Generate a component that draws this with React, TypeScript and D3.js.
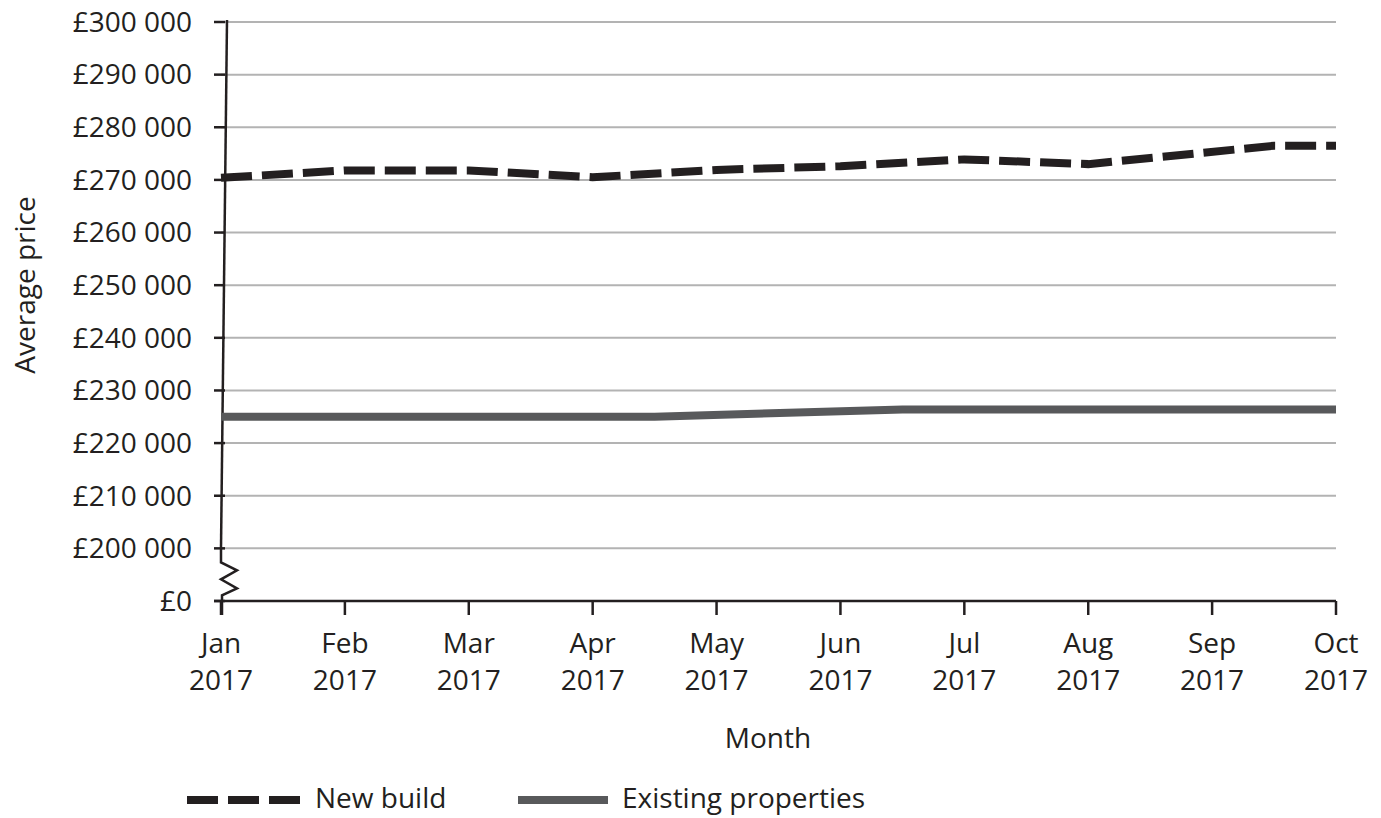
import { useEffect } from "react";
import * as d3 from "d3";

// month positions: 0 = Jan 2017 ... 9 = Oct 2017
const monthLabels = ["Jan", "Feb", "Mar", "Apr", "May", "Jun", "Jul", "Aug", "Sep", "Oct"];
const yearLabel = "2017";

const yTickValues = [190000, 200000, 210000, 220000, 230000, 240000, 250000, 260000, 270000, 280000, 290000, 300000];
const yTickLabels = ["£0", "£200 000", "£210 000", "£220 000", "£230 000", "£240 000", "£250 000", "£260 000", "£270 000", "£280 000", "£290 000", "£300 000"];

const newBuildMonths = [0, 1, 2, 3, 4, 5, 6, 7, 8.5, 9];
const newBuildPrices = [270400, 271800, 271800, 270500, 271900, 272600, 273900, 273000, 276500, 276500];

const existingMonths = [0, 3.5, 5.5, 9];
const existingPrices = [225000, 225000, 226400, 226400];

const INK = "#231f20";
const GREY = "#58595b";
const FONT = "'Open Sans', sans-serif";

const App = () => {
  useEffect(() => {
    document.body.style.margin = "0";
  }, []);

  const x = d3.scaleLinear().domain([0, 9]).range([221, 1336]);
  const y = d3.scaleLinear().domain([190000, 300000]).range([601, 22]);

  const line = d3
    .line<[number, number]>()
    .x((d) => x(d[0]))
    .y((d) => y(d[1]))
    .curve(d3.curveLinear);

  const newBuild = newBuildMonths.map((m, i) => [m, newBuildPrices[i]] as [number, number]);
  const existing = existingMonths.map((m, i) => [m, existingPrices[i]] as [number, number]);

  const x0 = x(0);
  const breakTop = y(200000) + 14;
  // zigzag for the axis break
  const zig = [
    [x0, y(200000)],
    [x0, breakTop],
    [x0 + 16, breakTop + 8],
    [x0, breakTop + 17],
    [x0 + 16, breakTop + 26],
    [x0 + 1, breakTop + 33],
    [x0 + 1, y(190000) + 14],
  ];

  return (
    <svg width={1381} height={818} style={{ display: "block", fontFamily: FONT }}>
      {/* gridlines */}
      {yTickValues.slice(1).map((v) => (
        <line key={v} x1={x0} x2={x(9)} y1={y(v)} y2={y(v)} stroke="#b3b3b3" strokeWidth={2} />
      ))}
      {/* y ticks + labels */}
      {yTickValues.map((v, i) => (
        <g key={"t" + v}>
          <line x1={x0 - 7} x2={x0 + 4} y1={y(v)} y2={y(v)} stroke={INK} strokeWidth={2.5} />
          <text x={192} y={y(v)} dy="0.35em" textAnchor="end" fontSize={28} fill={INK}>
            {yTickLabels[i]}
          </text>
        </g>
      ))}
      {/* y axis (slightly slanted as in original) */}
      <line x1={x0 + 6} y1={y(300000) - 2} x2={x0} y2={y(200000)} stroke={INK} strokeWidth={2.5} />
      <path d={d3.line()(zig as [number, number][]) ?? ""} fill="none" stroke={INK} strokeWidth={2.5} />
      {/* x axis */}
      <line x1={x0 - 7} x2={x(9)} y1={y(190000)} y2={y(190000)} stroke={INK} strokeWidth={2.5} />
      {monthLabels.map((m, i) => (
        <g key={m}>
          <line x1={x(i)} x2={x(i)} y1={y(190000)} y2={y(190000) + 14} stroke={INK} strokeWidth={2.5} />
          <text x={x(i)} y={653} textAnchor="middle" fontSize={28} fill={INK}>
            {m}
          </text>
          <text x={x(i)} y={690} textAnchor="middle" fontSize={28} fill={INK}>
            {yearLabel}
          </text>
        </g>
      ))}
      {/* series */}
      <path d={line(existing) ?? ""} fill="none" stroke={GREY} strokeWidth={8} />
      <path d={line(newBuild) ?? ""} fill="none" stroke={INK} strokeWidth={8} strokeDasharray="31 10" />
      {/* axis titles */}
      <text x={768} y={748} textAnchor="middle" fontSize={28} fill={INK}>
        Month
      </text>
      <text transform="translate(35,285) rotate(-90)" textAnchor="middle" fontSize={28} fill={INK}>
        Average price
      </text>
      {/* legend */}
      <line x1={187} x2={300} y1={800} y2={800} stroke={INK} strokeWidth={8} strokeDasharray="31 10" />
      <text x={315} y={808} fontSize={28} fill={INK}>
        New build
      </text>
      <line x1={518} x2={608} y1={800} y2={800} stroke={GREY} strokeWidth={8} />
      <text x={622} y={808} fontSize={28} fill={INK}>
        Existing properties
      </text>
    </svg>
  );
};

export default App;
